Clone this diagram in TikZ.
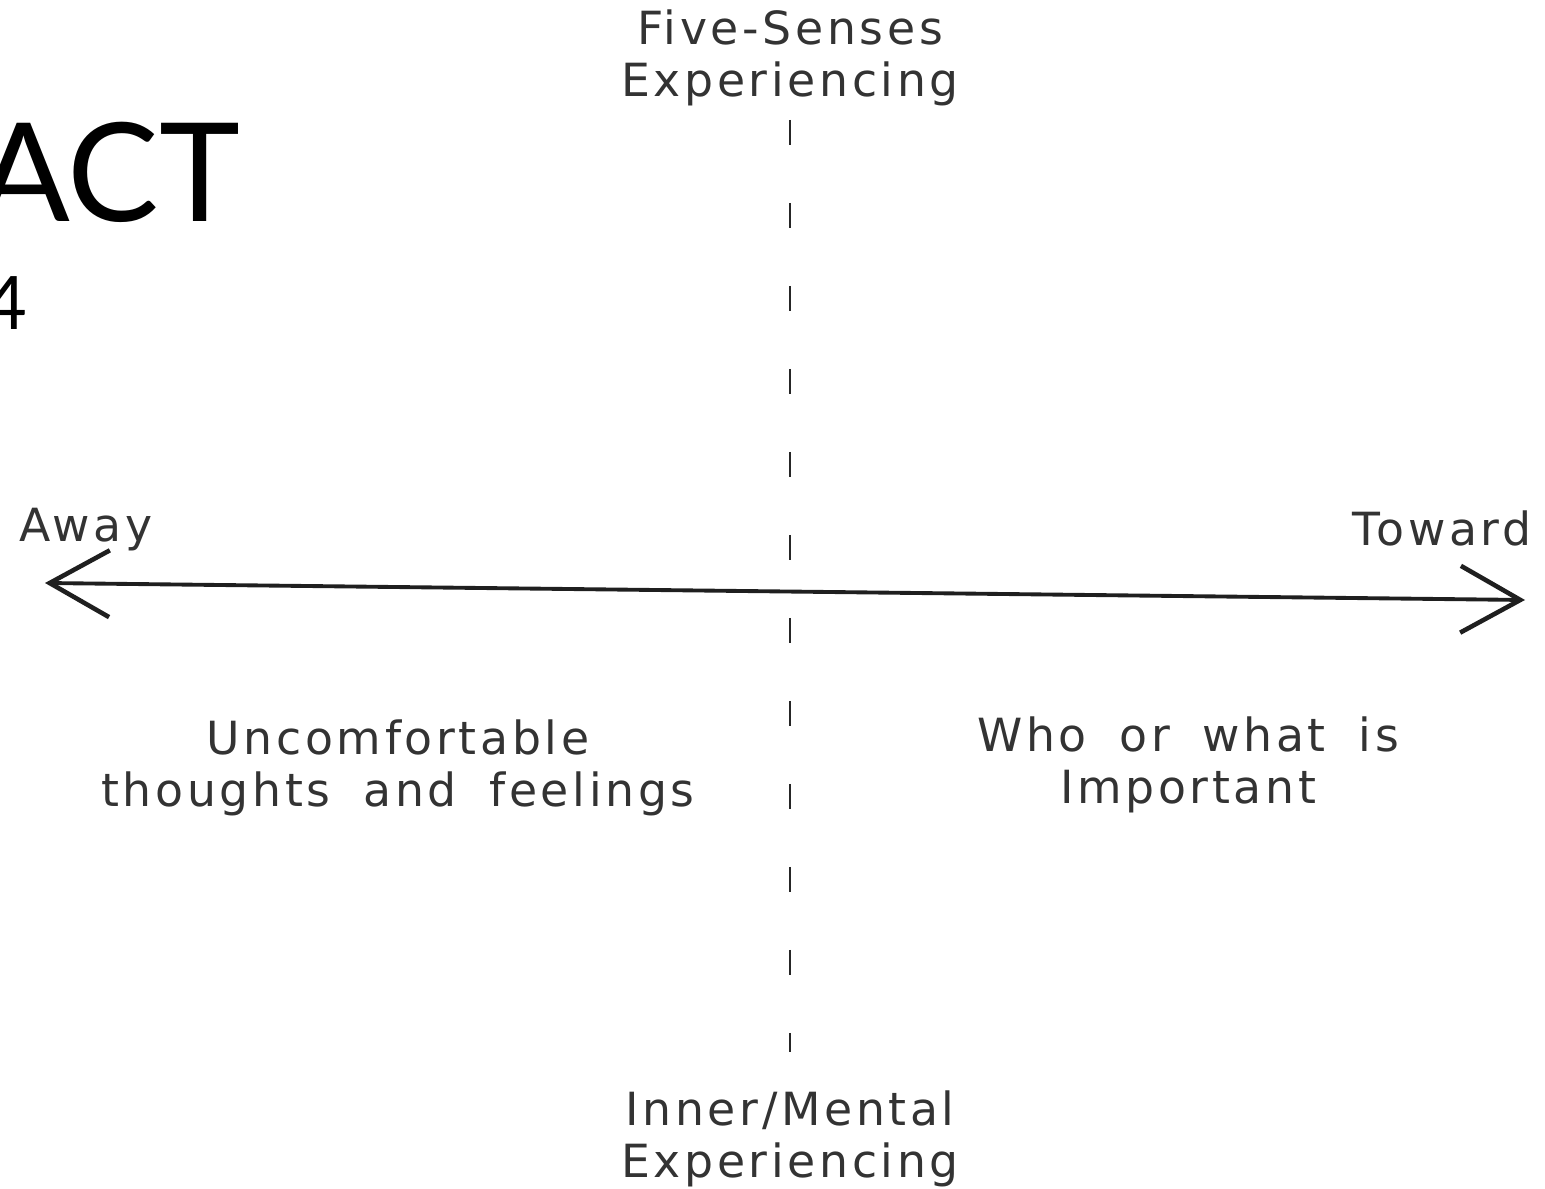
\documentclass[tikz,border=0pt]{standalone}
\usepackage{fontspec}
\setmainfont{DejaVu Sans}
\newfontfamily\handfont[LetterSpace=8,WordSpace=1.8]{DejaVu Sans}
\newfontfamily\titlefont{Lato}
\usetikzlibrary{arrows.meta}
\tikzset{
  matrix-label/.style={font=\handfont\fontsize{13}{15}\selectfont, text=black!80, align=center, inner sep=2pt},
  matrix-axis/.style={line width=1.1pt, draw=black!88,
    {Straight Barb[length=17pt,width=19pt,line width=1.3pt]}-{Straight Barb[length=17pt,width=19pt,line width=1.3pt]}},
  matrix-divider/.style={line width=0.7pt, draw=black!85, dash pattern=on 7pt off 16.6pt}
}
\begin{document}
\begin{tikzpicture}[x=0.01cm, y=-0.01cm]
  \useasboundingbox (0,0) rectangle (1545,1189);
  \clip (0,0) rectangle (1545,1189);

  % Title, cut off at the left edge
  \node[font=\titlefont\fontsize{39}{39}\selectfont, anchor=base east, inner sep=0pt] (title) at (241,222) {ACT};
  \node[font=\titlefont\fontsize{21}{21}\selectfont, anchor=base east, inner sep=0pt] (page) at (28,330) {4};

  % Axis labels
  \node[matrix-label] (senses) at (790,58) {Five-Senses\\Experiencing};
  \node[matrix-label] (mental) at (790,1139) {Inner/Mental\\Experiencing};
  \node[matrix-label] (away) at (86,530) {Away};
  \node[matrix-label] (toward) at (1442,528) {Toward};

  % Quadrant labels
  \node[matrix-label] (uncomfortable) at (398,768) {Uncomfortable\\thoughts and feelings};
  \node[matrix-label] (important) at (1188,765) {Who or what is\\Important};

  % Axes
  \coordinate (awayend) at (45,583);
  \coordinate (towardend) at (1525,600);
  \coordinate (divtop) at (790,120);
  \coordinate (divbottom) at (790,1052);
  \draw[matrix-axis] (awayend) -- (towardend);
  \draw[matrix-divider] (divtop) -- (divbottom);
\end{tikzpicture}
\end{document}
